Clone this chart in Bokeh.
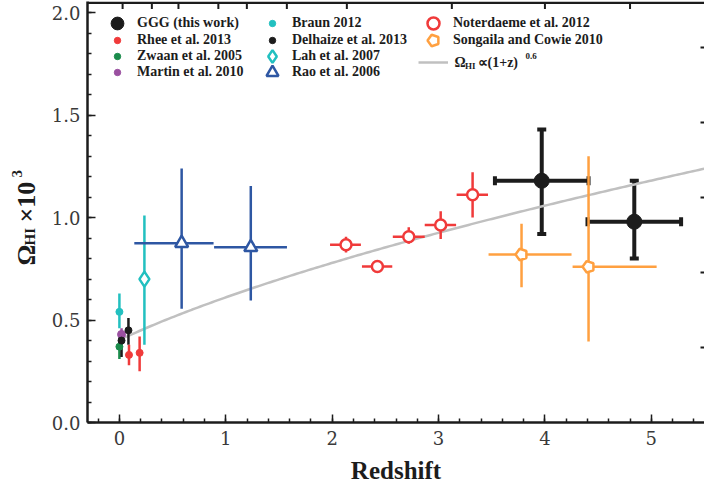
import numpy as np
from math import pi
from bokeh.plotting import figure
from bokeh.layouts import row
from bokeh.models import (ColumnDataSource, Whisker, TeeHead, Legend, LegendItem, LinearAxis,
                          SingleIntervalTicker, FixedTicker, Label, Range1d, NumeralTickFormatter, Span)
from bokeh.embed import file_html
from bokeh.resources import INLINE

# ---------------- data ----------------
ggg_z = [3.97, 4.84]
ggg_om = [1.18, 0.98]
ggg_z_lo = [3.53, 4.40]
ggg_z_hi = [4.41, 5.28]
ggg_om_lo = [0.92, 0.80]
ggg_om_hi = [1.43, 1.18]

rhee_z = [0.09, 0.19]
rhee_om = [0.33, 0.34]
rhee_om_lo = [0.28, 0.25]
rhee_om_hi = [0.38, 0.42]

zwaan_z = [0.0]
zwaan_om = [0.37]
zwaan_om_lo = [0.31]
zwaan_om_hi = [0.42]

martin_z = [0.02]
martin_om = [0.43]
martin_om_lo = [0.40]
martin_om_hi = [0.46]

braun_z = [0.0]
braun_om = [0.54]
braun_om_lo = [0.46]
braun_om_hi = [0.63]

delhaize_z = [0.02, 0.085]
delhaize_om = [0.40, 0.45]
delhaize_om_lo = [0.32, 0.38]
delhaize_om_hi = [0.44, 0.51]

lah_z = [0.235]
lah_om = [0.70]
lah_om_lo = [0.38]
lah_om_hi = [1.01]

rao_z = [0.585, 1.235]
rao_om = [0.875, 0.855]
rao_z_lo = [0.14, 0.89]
rao_z_hi = [0.885, 1.575]
rao_om_lo = [0.555, 0.595]
rao_om_hi = [1.24, 1.155]

not_z = [2.13, 2.425, 2.72, 3.02, 3.32]
not_om = [0.868, 0.761, 0.907, 0.964, 1.112]
not_z_lo = [1.98, 2.28, 2.57, 2.87, 3.17]
not_z_hi = [2.27, 2.565, 2.87, 3.165, 3.465]
not_om_lo = [0.83, 0.745, 0.873, 0.896, 1.001]
not_om_hi = [0.907, 0.777, 0.953, 1.031, 1.221]

song_z = [3.78, 4.41]
song_om = [0.82, 0.76]
song_z_lo = [3.47, 4.26]
song_z_hi = [4.25, 5.05]
song_om_lo = [0.66, 0.395]
song_om_hi = [0.97, 1.30]

# power law  Omega_HI = A (1+z)^0.6
pl_amp = 0.403
pl_index = 0.6
pl_z_start = 0.05
pl_z_end = 5.5

x_ticks_top = [0.03, 0.305, 0.555, 0.93, 1.198, 1.574, 2.138, 3.125, 4.00, 4.80]
y_ticks_right = [0.366, 0.733, 1.10, 1.466, 1.832]

# ---------------- styling ----------------
RED = "#f03a3a"
ORANGE = "#ffa040"
CYAN = "#22c0c0"
BLUE = "#2e57a3"
GREEN = "#1b8c4c"
PURPLE = "#9a50a0"
BLACK = "#1c1c1c"
GRAY = "#c0c0c0"
SERIF = "Liberation Serif"
TICKFONT = "DejaVu Serif"

W, H = 704, 490
LW = 45            # width of the strip that holds the y-axis title
FL, FB = 87, 422   # frame left / bottom in page pixels
X0, X1 = -0.3, 5.5
Y0, Y1 = 0.0, 2.055
PX = (Y1 - Y0) / (FB - 1)   # data units per pixel along y

p = figure(width=W - LW, height=H, output_backend="svg", toolbar_location=None,
           x_range=Range1d(X0, X1), y_range=Range1d(Y0, Y1),
           min_border_left=FL - LW, min_border_right=0, min_border_top=1,
           min_border_bottom=H - FB)
p.title = None
p.outline_line_color = None
p.xgrid.visible = False
p.ygrid.visible = False
p.background_fill_color = "white"

for ax in (p.xaxis[0], p.yaxis[0]):
    ax.axis_line_width = 2.5
    ax.axis_line_color = BLACK
    ax.major_tick_line_color = BLACK
    ax.minor_tick_line_color = BLACK
    ax.major_tick_line_width = 1.5
    ax.minor_tick_line_width = 1.5
    ax.major_tick_in = 8
    ax.major_tick_out = 0
    ax.minor_tick_in = 4
    ax.minor_tick_out = 0
    ax.major_label_text_font = TICKFONT
    ax.major_label_text_font_size = "18px"
    ax.major_label_text_color = "#3a3a3a"

p.xaxis[0].ticker = SingleIntervalTicker(interval=1, num_minor_ticks=5)
p.yaxis[0].ticker = SingleIntervalTicker(interval=0.5, num_minor_ticks=5)
p.yaxis[0].formatter = NumeralTickFormatter(format="0.0")
p.xaxis[0].major_label_standoff = 8
p.yaxis[0].major_label_standoff = 7
p.xaxis[0].axis_label = "Redshift"
p.xaxis[0].axis_label_text_font = SERIF
p.xaxis[0].axis_label_text_font_style = "bold"
p.xaxis[0].axis_label_text_font_size = "25px"
p.xaxis[0].axis_label_text_color = BLACK
p.xaxis[0].axis_label_standoff = 9

# right-hand axis: ticks only (its labels lie outside the picture)
right_axis = LinearAxis(ticker=FixedTicker(ticks=y_ticks_right, minor_ticks=[]),
                        major_label_text_font_size="1px", major_label_text_color=None,
                        major_label_standoff=0, axis_line_color=None,
                        major_tick_in=4, major_tick_out=0, major_tick_line_width=2,
                        major_tick_line_color=BLACK, minor_tick_in=0, minor_tick_out=0)
p.add_layout(right_axis, "right")

# top spine and its inward ticks (upper axis, labels outside the picture), kept just inside the frame
p.add_layout(Span(location=Y1 - 1.2 * PX, dimension="width", line_color=BLACK, line_width=2.5))
p.scatter(x_ticks_top, [Y1 - 4.0 * PX] * len(x_ticks_top), marker="dash", angle=pi / 2, size=7,
          line_color=BLACK, line_width=2)

# power-law curve
pl_z = np.linspace(pl_z_start, pl_z_end, 200)
pl_r = p.line(pl_z, pl_amp * (1 + pl_z) ** pl_index, line_color=GRAY, line_width=2.5)


def errors(z, om, olo, ohi, color, lw, zlo=None, zhi=None):
    src = ColumnDataSource(dict(z=z, om=om, olo=olo, ohi=ohi,
                                zlo=zlo if zlo else z, zhi=zhi if zhi else z))
    p.segment(x0="z", y0="olo", x1="z", y1="ohi", source=src, line_color=color, line_width=lw)
    if zlo:
        p.segment(x0="zlo", y0="om", x1="zhi", y1="om", source=src, line_color=color, line_width=lw)


errors(braun_z, braun_om, braun_om_lo, braun_om_hi, CYAN, 2.5)
errors(zwaan_z, zwaan_om, zwaan_om_lo, zwaan_om_hi, GREEN, 2.5)
errors(martin_z, martin_om, martin_om_lo, martin_om_hi, PURPLE, 2.5)
errors(delhaize_z, delhaize_om, delhaize_om_lo, delhaize_om_hi, BLACK, 2.5)
errors(rhee_z, rhee_om, rhee_om_lo, rhee_om_hi, RED, 2.5)
errors(lah_z, lah_om, lah_om_lo, lah_om_hi, CYAN, 2.5)
errors(rao_z, rao_om, rao_om_lo, rao_om_hi, BLUE, 2.5, rao_z_lo, rao_z_hi)
errors(not_z, not_om, not_om_lo, not_om_hi, RED, 2.5, not_z_lo, not_z_hi)
errors(song_z, song_om, song_om_lo, song_om_hi, ORANGE, 2.5, song_z_lo, song_z_hi)

ggg_src = ColumnDataSource(dict(z=ggg_z, om=ggg_om, zlo=ggg_z_lo, zhi=ggg_z_hi,
                                olo=ggg_om_lo, ohi=ggg_om_hi))
for dim, base, lo, hi in (("height", "z", "olo", "ohi"), ("width", "om", "zlo", "zhi")):
    p.add_layout(Whisker(source=ggg_src, base=base, lower=lo, upper=hi, dimension=dim,
                         line_color=BLACK, line_width=4,
                         upper_head=TeeHead(size=9, line_width=4, line_color=BLACK),
                         lower_head=TeeHead(size=9, line_width=4, line_color=BLACK)))

r_braun = p.scatter(braun_z, braun_om, marker="circle", size=7, fill_color=CYAN, line_color=CYAN)
r_zwaan = p.scatter(zwaan_z, zwaan_om, marker="circle", size=7, fill_color=GREEN, line_color=GREEN)
r_martin = p.scatter(martin_z, martin_om, marker="circle", size=8, fill_color=PURPLE, line_color=PURPLE)
r_del = p.scatter(delhaize_z, delhaize_om, marker="circle", size=7, fill_color=BLACK, line_color=BLACK)
r_rhee = p.scatter(rhee_z, rhee_om, marker="circle", size=7, fill_color=RED, line_color=RED)
r_lah = p.scatter(lah_z, lah_om, marker="diamond", size=15, fill_color="white", line_color=CYAN, line_width=2.5)
r_rao = p.scatter(rao_z, rao_om, marker="triangle", size=13, fill_color="white", line_color=BLUE, line_width=2.5)
r_not = p.scatter(not_z, not_om, marker="circle", size=11, fill_color="white", line_color=RED, line_width=2.5)
r_song = p.ngon(song_z, song_om, radius=6, radius_units="screen", n=5, angle=pi / 2,
                fill_color="white", line_color=ORANGE, line_width=2.5)
r_ggg = p.scatter(ggg_z, ggg_om, marker="circle", size=15, fill_color=BLACK, line_color=BLACK)

# ---------------- legend: one small legend per entry so marker sizes can differ ----------------
leg_col_marker_x = [117, 272, 433]     # page x of marker centres per column
leg_row_y = [22.7, 39.5, 55.8, 72.0]   # page y of row centres
leg_line_y = 61.7                      # page y of the power-law entry


def add_entry(label, renderer, col, cy, box):
    cx = leg_col_marker_x[col]
    lg = Legend(items=[LegendItem(label=label, renderers=[renderer])],
                location=(cx - box / 2 - FL, FB - (cy + box / 2)),
                glyph_width=int(box), glyph_height=int(box), label_height=int(box),
                label_standoff=int(20 - box // 2), spacing=0, padding=0, margin=0,
                border_line_color=None, background_fill_alpha=0,
                label_text_font=SERIF, label_text_font_style="bold",
                label_text_font_size="14px", label_text_color=BLACK)
    p.add_layout(lg)


add_entry("GGG (this work)", r_ggg, 0, leg_row_y[0], 32)
add_entry("Rhee et al. 2013", r_rhee, 0, leg_row_y[1], 16)
add_entry("Zwaan et al. 2005", r_zwaan, 0, leg_row_y[2], 16)
add_entry("Martin et al. 2010", r_martin, 0, leg_row_y[3], 16)
add_entry("Braun 2012", r_braun, 1, leg_row_y[0], 16)
add_entry("Delhaize et al. 2013", r_del, 1, leg_row_y[1], 16)
add_entry("Lah et al. 2007", r_lah, 1, leg_row_y[2], 32)
add_entry("Rao et al. 2006", r_rao, 1, leg_row_y[3], 30)
add_entry("Noterdaeme et al. 2012", r_not, 2, leg_row_y[0], 30)
add_entry("Songaila and Cowie 2010", r_song, 2, leg_row_y[1], 30)
add_entry(" ", pl_r, 2, leg_line_y, 30)


def lab(fig, text, x, y, size, angle=0.0):
    fig.add_layout(Label(x=x, y=y, x_units="screen", y_units="screen", text=text,
                         angle=angle, text_font=SERIF, text_font_style="bold",
                         text_font_size=size, text_color=BLACK,
                         text_align="left", text_baseline="middle"))


# legend text of the power law (page coords -> frame coords)
lab(p, "Ω", 454 - FL, FB - 62, "14px")
lab(p, "HI", 464.5 - FL, FB - 65.5, "9px")
lab(p, "∝(1+z)", 477 - FL, FB - 62, "14px")
lab(p, "0.6", 525 - FL, FB - 55.5, "9px")

# ---------------- strip holding the rotated y-axis title ----------------
t = figure(width=LW, height=H, output_backend="svg", toolbar_location=None,
           x_range=Range1d(0, 1), y_range=Range1d(0, 1),
           min_border_left=0, min_border_right=0, min_border_top=1, min_border_bottom=H - FB)
t.title = None
t.axis.visible = False
t.grid.visible = False
t.outline_line_color = None
lab(t, "Ω", 25.5, FB - 265, "26px", pi / 2)
lab(t, "HI", 29.5, FB - 245, "15px", pi / 2)
lab(t, "×10", 25.5, FB - 222, "26px", pi / 2)
lab(t, "3", 16, FB - 177, "15px", pi / 2)

layout = row(t, p, spacing=0)
open("out.html", "w").write(file_html(layout, INLINE))
